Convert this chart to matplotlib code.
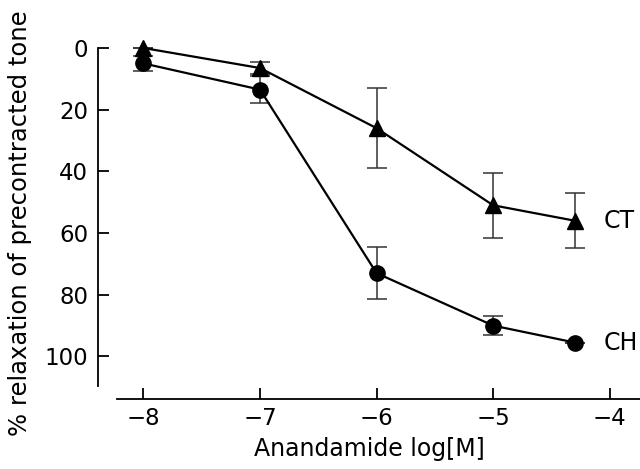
import matplotlib
matplotlib.use("Agg")
import matplotlib.pyplot as plt
import numpy as np

# anandamide concentration, log[M]
dose = [-8, -7, -6, -5, -4.3]

# % relaxation (mean and error)
ct_mean = [0, 6.5, 26, 51, 56]
ct_err = [0, 2, 13, 10.5, 9]
ch_mean = [5, 13.5, 73, 90, 95.5]
ch_err = [2.5, 4.5, 8.5, 3, 0]

xticks = [-8, -7, -6, -5, -4]
yticks = [0, 20, 40, 60, 80, 100]

plt.rcParams['font.family'] = ['DejaVu Sans']

fig = plt.figure(figsize=(6.4, 4.69), dpi=100)
ax = fig.add_axes([0.1531, 0.1493, 0.8469, 0.7484])

ax.errorbar(dose, ct_mean, yerr=ct_err, color='black', marker='^', ms=12,
            lw=1.6, elinewidth=1.1, ecolor='#333333', capsize=7, capthick=1.1,
            clip_on=False, zorder=3)
ax.errorbar(dose, ch_mean, yerr=ch_err, color='black', marker='o', ms=11,
            lw=1.6, elinewidth=1.1, ecolor='#333333', capsize=7, capthick=1.1,
            clip_on=False, zorder=3)

ax.annotate('CT', (dose[-1], ct_mean[-1]), xytext=(21, 0), textcoords='offset points',
            va='center', ha='left', fontsize=17)
ax.annotate('CH', (dose[-1], ch_mean[-1]), xytext=(21, 0), textcoords='offset points',
            va='center', ha='left', fontsize=17)

ax.set_xlim(-8.39, -3.74)
ax.set_ylim(113.8, 0)
ax.set_xticks(xticks)
ax.set_xticklabels(['\u2212%d' % abs(v) for v in xticks])
ax.set_yticks(yticks)

ax.spines['top'].set_visible(False)
ax.spines['right'].set_visible(False)
ax.spines['left'].set_bounds(0, 109.5)
ax.spines['bottom'].set_bounds(-8.23, -3.74)
for s in ['left', 'bottom']:
    ax.spines[s].set_linewidth(1.3)

ax.tick_params(direction='in', length=8, width=1.3, labelsize=16.5)
ax.tick_params(axis='y', pad=7)
ax.tick_params(axis='x', pad=6)

ax.set_xlabel('Anandamide log[M]', fontsize=17, labelpad=5)
ax.set_ylabel('% relaxation of precontracted tone', fontsize=17.5, labelpad=9)

fig.savefig('out.png', dpi=100)
